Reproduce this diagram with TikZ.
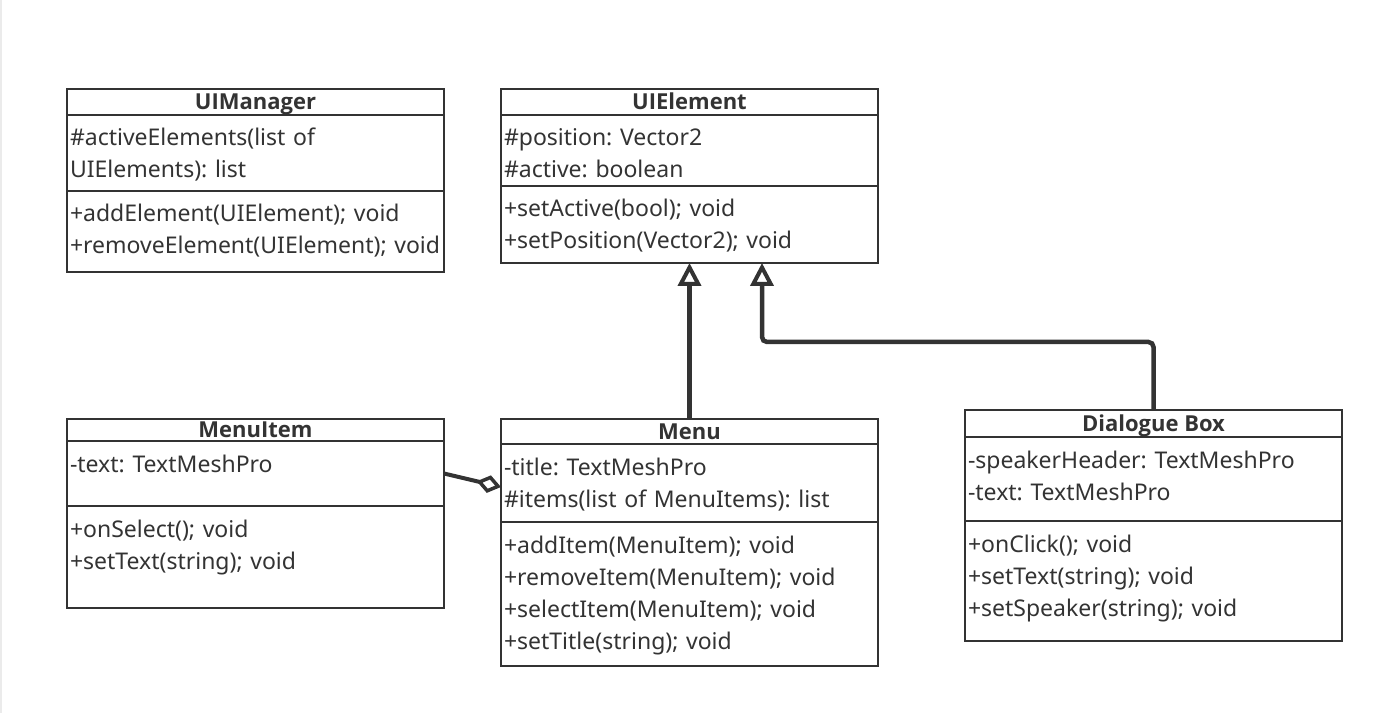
\documentclass[tikz,border=0pt]{standalone}
\usepackage{fontspec}
\setmainfont{Noto Sans}
\newfontfamily\headfont{Open Sans}
\frenchspacing
\usetikzlibrary{positioning,arrows.meta}
\definecolor{umlline}{HTML}{333333}
\tikzset{
  >=latex,
  every node/.style={font=\fontsize{23pt}{32pt}\selectfont,text=umlline},
  classname/.style={draw=umlline,line width=1.5pt,minimum width=377pt,inner sep=0pt,outer sep=0pt,
    text height=15.7pt,text depth=0pt,anchor=north west,font=\fontsize{22pt}{32pt}\headfont\bfseries},
  members/.style={draw=umlline,line width=1.5pt,text width=371pt,align=left,inner xsep=3pt,
    inner ysep=9pt,outer sep=0pt,text height=22pt,text depth=#1,anchor=north},
  inherit/.style={draw=umlline,line width=4.5pt,arrows={-Triangle[open,length=23pt,width=23pt,line width=4pt]}},
  aggr/.style={draw=umlline,line width=4pt,arrows={Diamond[open,length=25pt,width=18pt,line width=3.5pt]-}},
}

\begin{document}
\begin{tikzpicture}[x=1pt,y=1pt]
  \useasboundingbox (0,0) rectangle (1400,713);
  \draw[black!8,line width=2pt] (1,0) -- (1,713);

  % UIManager
  \node[classname,minimum height=26pt] (mgr) at (67,624) {UIManager};
  \node[members=36pt,below=0pt of mgr] (mgr-attr) {\#activeElements(list of\\UIElements): list};
  \node[members=41pt,below=0pt of mgr-attr] (mgr-ops) {+addElement(UIElement); void\\+removeElement(UIElement); void};

  % UIElement
  \node[classname,minimum height=26pt] (elem) at (501,624) {UIElement};
  \node[members=31pt,below=0pt of elem] (elem-attr) {\#position: Vector2\\\#active: boolean};
  \node[members=37pt,below=0pt of elem-attr] (elem-ops) {+setActive(bool); void\\+setPosition(Vector2); void};

  % MenuItem
  \node[classname,minimum height=22pt] (item) at (67,294) {MenuItem};
  \node[members=25pt,below=0pt of item] (item-attr) {-text: TextMeshPro};
  \node[members=62pt,below=0pt of item-attr] (item-ops) {+onSelect(); void\\+setText(string); void};

  % Menu
  \node[classname,minimum height=25pt] (menu) at (501,294) {Menu};
  \node[members=38pt,below=0pt of menu] (menu-attr) {-title: TextMeshPro\\\#items(list of MenuItems): list};
  \node[members=104pt,below=0pt of menu-attr] (menu-ops) {+addItem(MenuItem); void\\+removeItem(MenuItem); void\\+selectItem(MenuItem); void\\+setTitle(string); void};

  % Dialogue Box
  \node[classname,minimum height=27pt] (dlg) at (965,303) {Dialogue Box};
  \node[members=44pt,below=0pt of dlg] (dlg-attr) {-speakerHeader: TextMeshPro\\-text: TextMeshPro};
  \node[members=80pt,below=0pt of dlg-attr] (dlg-ops) {+onClick(); void\\+setText(string); void\\+setSpeaker(string); void};

  % generalisation and aggregation
  \draw[inherit] (menu) -- (elem-ops);
  \coordinate (bend) at (762,371);
  \draw[inherit,rounded corners=5pt] (dlg) |- (bend) -- (bend |- elem-ops.south);
  \draw[aggr] ([yshift=-4pt]menu-attr.west) -- (item-attr.east);
\end{tikzpicture}
\end{document}
